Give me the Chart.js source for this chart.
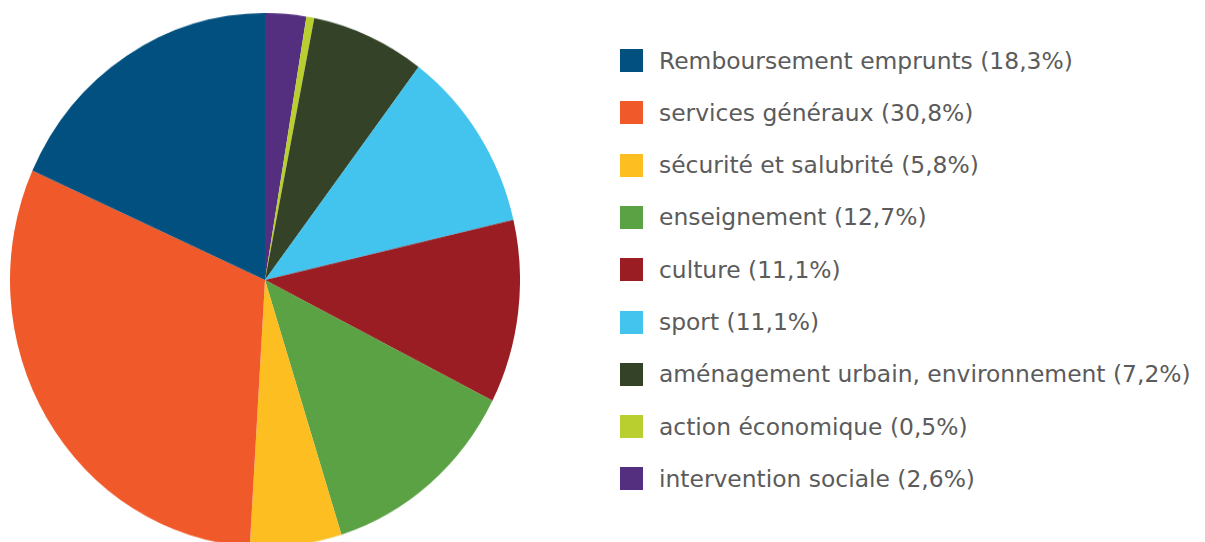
<!DOCTYPE html>
<html lang="fr">
<head>
<meta charset="utf-8">
<script src="https://cdn.jsdelivr.net/npm/chart.js@4.4.1/dist/chart.umd.min.js"></script>
<style>
  html, body { margin: 0; padding: 0; background: #ffffff; width: 1205px; height: 542px; overflow: hidden; }
  #pieWrap { position: absolute; left: 10px; top: 25px; width: 510px; height: 510px; transform: scaleY(1.047); transform-origin: 50% 50%; }
  #legend { position: absolute; left: 620px; top: 0; font-family: "DejaVu Sans", sans-serif; color: #5b5b5b; }
  .item { position: absolute; left: 0; white-space: nowrap; display: flex; align-items: center; }
  .box { width: 23px; height: 23px; margin-right: 16px; flex: none; }
</style>
</head>
<body>
<div id="pieWrap"><canvas id="c"></canvas></div>
<div id="legend"></div>
<script>
const categories = [
  "Remboursement emprunts",
  "services généraux",
  "sécurité et salubrité",
  "enseignement",
  "culture",
  "sport",
  "aménagement urbain, environnement",
  "action économique",
  "intervention sociale"
];
const values = [18.3, 30.8, 5.8, 12.7, 11.1, 11.1, 7.2, 0.5, 2.6];
const valueLabels = ["18,3%", "30,8%", "5,8%", "12,7%", "11,1%", "11,1%", "7,2%", "0,5%", "2,6%"];
const colors = ["#02507f", "#f05a2b", "#fdbe21", "#5ba244", "#991d22", "#42c4ef", "#344227", "#b8cf2f", "#542f80"];

// Slices run counter-clockwise from the top in legend order; Chart.js draws clockwise, so reverse.
const idx = categories.map((_, i) => i).reverse();

new Chart(document.getElementById('c'), {
  type: 'pie',
  data: {
    labels: idx.map(i => categories[i]),
    datasets: [{
      data: idx.map(i => values[i]),
      backgroundColor: idx.map(i => colors[i]),
      borderWidth: 0
    }]
  },
  options: {
    responsive: true,
    maintainAspectRatio: false,
    animation: false,
    layout: { padding: 0 },
    plugins: { legend: { display: false }, tooltip: { enabled: false } }
  }
});

// HTML legend
const legend = document.getElementById('legend');
const texts = categories.map((c, i) => c + " (" + valueLabels[i] + ")");
const mc = document.createElement('canvas').getContext('2d');
mc.font = '100px "DejaVu Sans"';
const fontSize = 100 * 414 / mc.measureText(texts[0]).width;
texts.forEach((t, i) => {
  const row = document.createElement('div');
  row.className = 'item';
  const cy = 60.5 + i * 52.3;
  row.style.top = (cy - 15) + 'px';
  row.style.height = '30px';
  row.style.fontSize = fontSize + 'px';
  const b = document.createElement('div');
  b.className = 'box';
  b.style.background = colors[i];
  const s = document.createElement('span');
  s.textContent = t;
  row.appendChild(b);
  row.appendChild(s);
  legend.appendChild(row);
});
</script>
</body>
</html>
